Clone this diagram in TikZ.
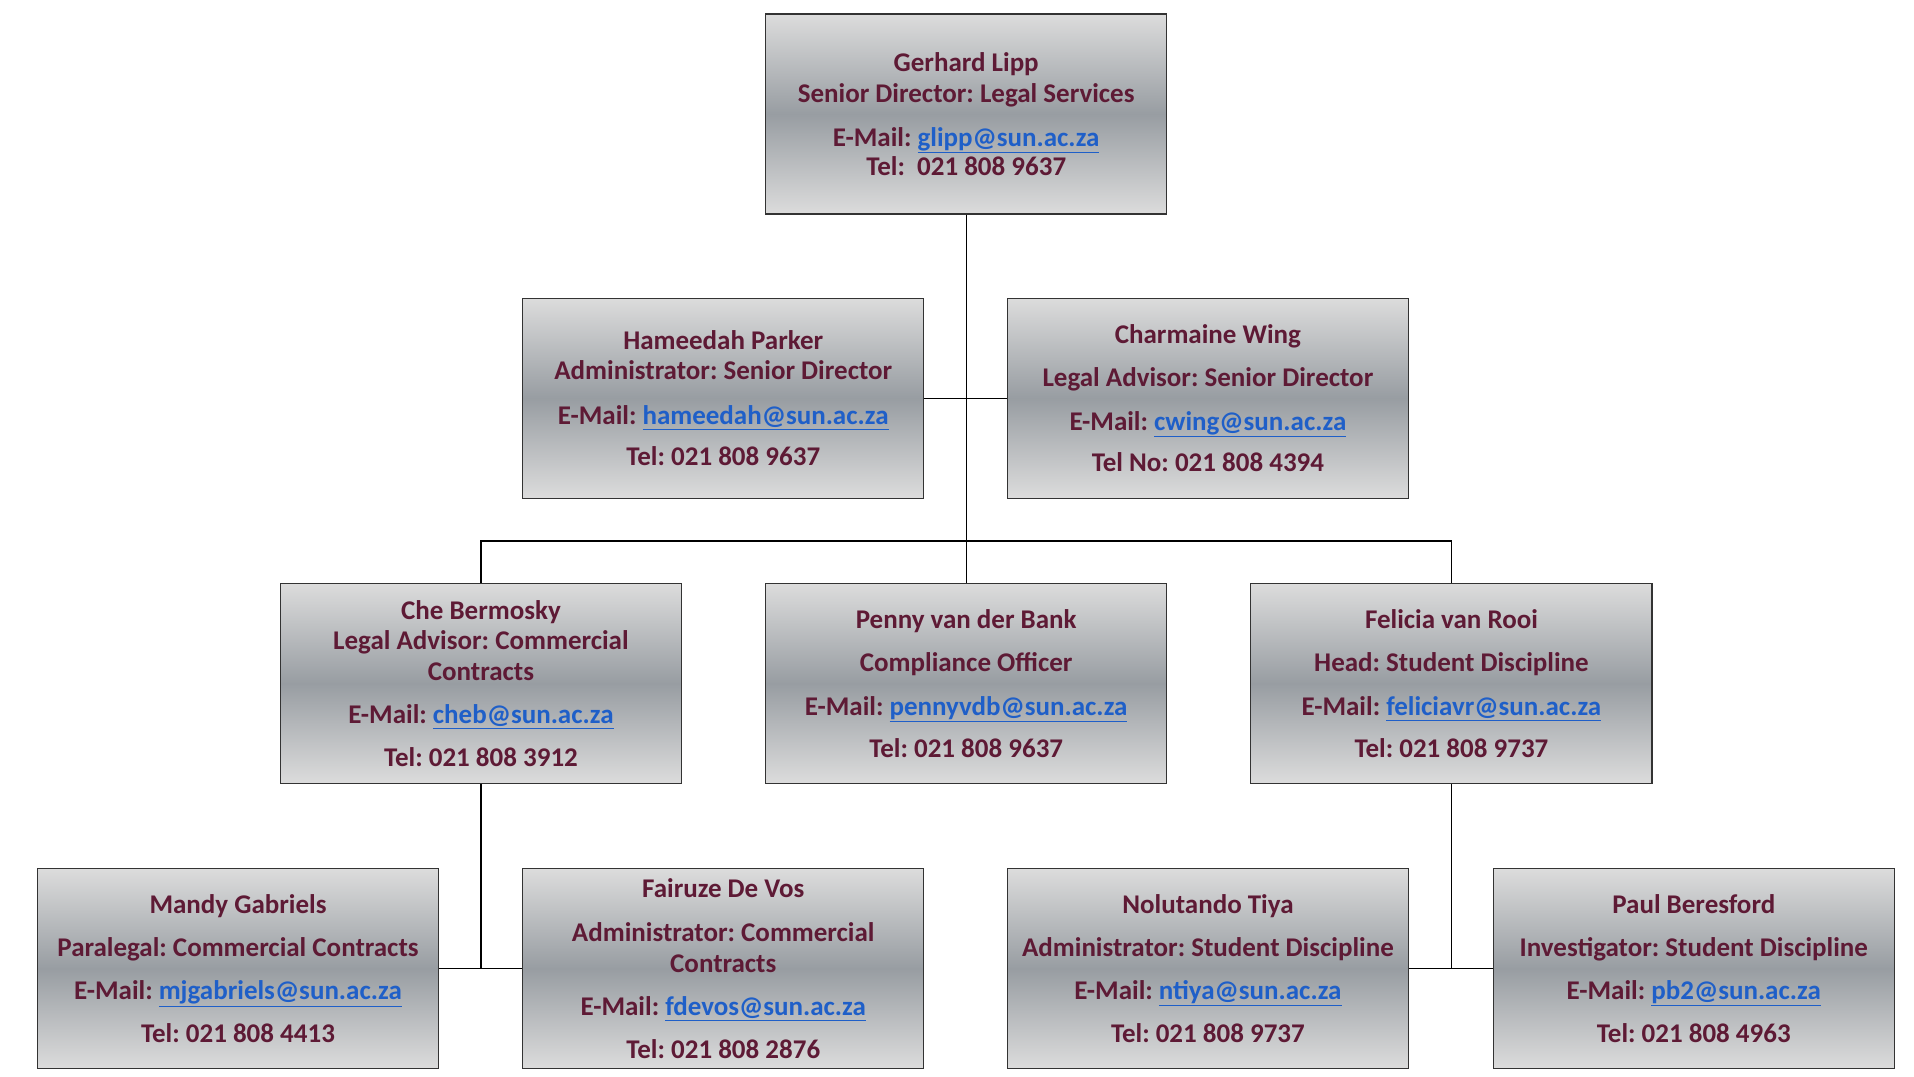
\documentclass[tikz,border=0pt]{standalone}
\usepackage{fontspec}
\setmainfont{Carlito}
\frenchspacing
\definecolor{tx}{HTML}{5E1A35}
\definecolor{lk}{HTML}{1F5FC8}
\definecolor{gtop}{HTML}{DCDCDC}
\definecolor{gmid}{HTML}{989DA2}
\newcommand{\lnk}[1]{{\color{lk}\underline{#1}}}
\begin{document}
\begin{tikzpicture}[x=1pt,y=-1pt,
  box/.style={draw=black!80,line width=1pt,minimum width=327pt,minimum height=163pt,inner sep=0pt,
    top color=gtop,bottom color=gtop,middle color=gmid,align=center,text=tx,
    font=\fontsize{22}{24}\selectfont\bfseries},
  ln/.style={draw=black,line width=1pt}]
\useasboundingbox (0,0) rectangle (1560,877);
\node[box] (gl) at (787.5,93) {Gerhard Lipp\\[1pt] Senior Director: Legal Services\\[12pt] E-Mail: \lnk{glipp@sun.ac.za}\\[0pt] Tel:\ \ 021 808 9637};
\node[box] (hp) at (589.5,324.5) {Hameedah Parker\\[1pt] Administrator: Senior Director\\[12pt] E-Mail: \lnk{hameedah@sun.ac.za}\\[10pt] Tel: 021 808 9637};
\node[box] (cw) at (984.5,324.5) {Charmaine Wing\\[11pt] Legal Advisor: Senior Director\\[12pt] E-Mail: \lnk{cwing@sun.ac.za}\\[10pt] Tel No: 021 808 4394};
\node[box] (cb) at (392,557) {Che Bermosky\\[1pt] Legal Advisor: Commercial\\[1pt] Contracts\\[11pt] E-Mail: \lnk{cheb@sun.ac.za}\\[11pt] Tel: 021 808 3912};
\node[box] (pb) at (787.5,557) {Penny van der Bank\\[11pt] Compliance Officer\\[12pt] E-Mail: \lnk{pennyvdb@sun.ac.za}\\[10pt] Tel: 021 808 9637};
\node[box] (fr) at (1183,557) {Felicia van Rooi\\[11pt] Head: Student Discipline\\[12pt] E-Mail: \lnk{feliciavr@sun.ac.za}\\[10pt] Tel: 021 808 9737};
\node[box] (mg) at (194,789.5) {Mandy Gabriels\\[11pt] Paralegal: Commercial Contracts\\[11pt] E-Mail: \lnk{mjgabriels@sun.ac.za}\\[11pt] Tel: 021 808 4413};
\node[box] (fd) at (589.5,789.5) {Fairuze De Vos\\[12pt] Administrator: Commercial\\[1pt] Contracts\\[11pt] E-Mail: \lnk{fdevos@sun.ac.za}\\[11pt] Tel: 021 808 2876};
\node[box] (nt) at (984.5,789.5) {Nolutando Tiya\\[11pt] Administrator: Student Discipline\\[11pt] E-Mail: \lnk{ntiya@sun.ac.za}\\[11pt] Tel: 021 808 9737};
\node[box] (pbe) at (1380.5,789.5) {Paul Beresford\\[11pt] Investigator: Student Discipline\\[11pt] E-Mail: \lnk{pb2@sun.ac.za}\\[11pt] Tel: 021 808 4963};
\coordinate (j1) at (787.5,441);
\coordinate (j2) at (392,790);
\coordinate (j3) at (1183,790);
\draw[ln] (gl.south) -- (j1) -- (pb.north);
\draw[ln] (hp.east) -- (cw.west);
\draw[ln] (cb.north) |- (j1) -| (fr.north);
\draw[ln] (cb.south) -- (j2);
\draw[ln] (mg.east) -- (fd.west);
\draw[ln] (fr.south) -- (j3);
\draw[ln] (nt.east) -- (pbe.west);
\end{tikzpicture}
\end{document}
